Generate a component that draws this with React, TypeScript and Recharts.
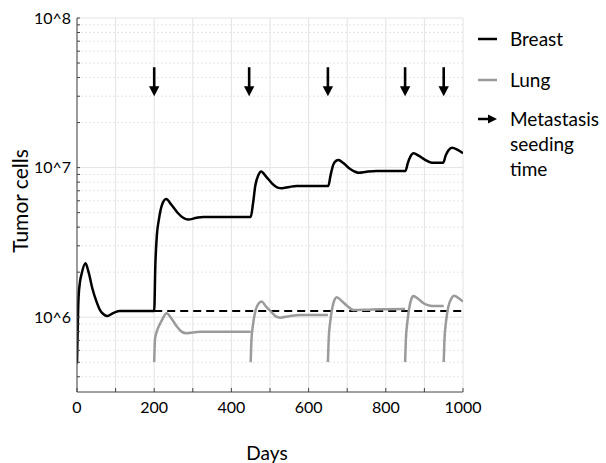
import React from 'react';
import {
  ComposedChart,
  Line,
  XAxis,
  YAxis,
  CartesianGrid,
  ReferenceLine,
  ReferenceDot,
  Label,
} from 'recharts';

// Days vs tumor cells
const breast: [number, number][] = [
  [0, 4.9e5], [2, 8.9e5], [4, 1.35e6], [8, 1.74e6], [12, 1.95e6], [22, 2.29e6],
  [30, 2.0e6], [40, 1.55e6], [51, 1.26e6], [60, 1.11e6], [68, 1.05e6], [78, 1.02e6],
  [95, 1.07e6], [111, 1.1e6], [200, 1.1e6],
  [203, 2.24e6], [207, 3.55e6], [212, 4.47e6], [220, 5.62e6], [231, 6.17e6], [245, 5.62e6],
  [260, 5.01e6], [275, 4.62e6], [288, 4.49e6], [310, 4.62e6], [327, 4.68e6], [450, 4.68e6],
  [456, 5.75e6], [462, 7.59e6], [470, 8.91e6], [477, 9.4e6], [490, 8.71e6], [505, 7.85e6],
  [520, 7.35e6], [530, 7.28e6], [550, 7.43e6], [569, 7.53e6], [651, 7.53e6],
  [657, 8.91e6], [664, 1.047e7], [671, 1.109e7], [677, 1.122e7], [690, 1.072e7], [705, 9.89e6],
  [718, 9.44e6], [729, 9.25e6], [750, 9.38e6], [776, 9.48e6], [851, 9.48e6],
  [857, 1.072e7], [864, 1.189e7], [872, 1.247e7], [885, 1.202e7], [900, 1.135e7], [919, 1.079e7],
  [949, 1.079e7], [955, 1.202e7], [962, 1.303e7], [972, 1.358e7], [985, 1.318e7], [1000, 1.247e7],
];

const lung1: [number, number][] = [
  [200, 5.01e5], [202, 7.08e5], [206, 7.94e5], [212, 8.71e5], [220, 9.55e5], [232, 1.062e6],
  [245, 9.77e5], [258, 8.71e5], [270, 8.04e5], [284, 7.8e5], [300, 7.91e5], [319, 8.0e5], [450, 8.0e5],
];
const lung2: [number, number][] = [
  [450, 5.01e5], [452, 7.08e5], [456, 8.91e5], [462, 1.096e6], [470, 1.23e6], [478, 1.271e6],
  [490, 1.175e6], [505, 1.072e6], [515, 1.012e6], [526, 9.93e5], [550, 1.016e6], [578, 1.035e6], [650, 1.035e6],
];
const lung3: [number, number][] = [
  [650, 5.01e5], [652, 7.08e5], [656, 9.33e5], [662, 1.175e6], [667, 1.303e6], [673, 1.358e6],
  [685, 1.288e6], [700, 1.189e6], [716, 1.117e6], [750, 1.122e6], [785, 1.13e6], [850, 1.135e6],
];
const lung4: [number, number][] = [
  [850, 5.01e5], [852, 7.08e5], [856, 9.33e5], [862, 1.202e6], [866, 1.318e6], [871, 1.387e6],
  [885, 1.318e6], [900, 1.23e6], [915, 1.194e6], [923, 1.189e6], [950, 1.189e6],
];
const lung5: [number, number][] = [
  [950, 5.01e5], [952, 7.08e5], [956, 9.33e5], [962, 1.175e6], [970, 1.334e6], [977, 1.393e6],
  [990, 1.334e6], [1000, 1.271e6],
];
const baselineLevel: [number, number][] = [[200, 1.1e6], [1000, 1.1e6]];

const seedingDays = [200, 446, 650, 850, 950];
const arrowTipLevel = 3e7;

const xTicks = [0, 100, 200, 300, 400, 500, 600, 700, 800, 900, 1000];
const yMajor = [1e6, 1e7, 1e8];
const yMajorLabels = ['10^6', '10^7', '10^8'];
const yMinor = [
  4e5, 5e5, 6e5, 7e5, 8e5, 9e5,
  2e6, 3e6, 4e6, 5e6, 6e6, 7e6, 8e6, 9e6,
  2e7, 3e7, 4e7, 5e7, 6e7, 7e7, 8e7, 9e7,
];
const yDomain = [316228, 1e8];

const toRows = (arr: [number, number][]) => arr.map(([d, v]) => ({ d, v }));

const FONT = 'Lato, "Open Sans", sans-serif';
const GRAY = '#9b9b9b';

const Arrow = (props: any) => {
  const { cx, cy } = props;
  if (cx == null || cy == null) return null;
  return (
    <g>
      <line x1={cx} y1={cy - 29} x2={cx} y2={cy - 9} stroke="#000" strokeWidth={2.6} />
      <polygon points={`${cx - 5.2},${cy - 10} ${cx + 5.2},${cy - 10} ${cx},${cy}`} fill="#000" />
    </g>
  );
};

const legendText: React.CSSProperties = {
  position: 'absolute',
  left: 510,
  fontFamily: FONT,
  fontSize: 19,
  color: '#000',
  lineHeight: '25px',
  whiteSpace: 'nowrap',
};

export default function App() {
  const yTicks = [...yMinor, ...yMajor].sort((a, b) => a - b);
  return (
    <div style={{ position: 'absolute', left: 0, top: 0, width: 606, height: 463, fontFamily: FONT, background: '#fff', overflow: 'hidden' }}>
      <ComposedChart
        width={606}
        height={463}
        margin={{ top: 18, right: 143, bottom: 41, left: 17 }}
      >
        <CartesianGrid horizontal={false} vertical stroke="#e3e3e3" strokeWidth={1} />
        {yMinor.map((v) => (
          <ReferenceLine key={'mi' + v} y={v} stroke="#e6e6e6" strokeDasharray="2 2" strokeWidth={1} />
        ))}
        {yMajor.map((v) => (
          <ReferenceLine key={'ma' + v} y={v} stroke="#e3e3e3" strokeWidth={1} />
        ))}
        <XAxis
          dataKey="d"
          type="number"
          domain={[0, 1000]}
          ticks={xTicks}
          interval={0}
          tickFormatter={(d: number) => (d % 200 === 0 ? String(d) : '')}
          tickSize={-4}
          tickMargin={14}
          height={30}
          stroke="#444"
          tick={{ fontSize: 16, fill: '#000', fontFamily: FONT }}
          allowDataOverflow
        >
          <Label
            content={(p: any) => {
              const vb = p.viewBox || { x: 77, y: 392, width: 386, height: 30 };
              return (
                <text x={vb.x + vb.width / 2 - 3} y={vb.y + 68} textAnchor="middle" fontSize={19} fontFamily={FONT} fill="#000" style={{ fill: '#000' }}>
                  Days
                </text>
              );
            }}
          />
        </XAxis>
        <YAxis
          type="number"
          scale="log"
          domain={yDomain}
          ticks={yTicks}
          interval={0}
          tickFormatter={(v: number) => {
            const i = yMajor.indexOf(v);
            return i >= 0 ? yMajorLabels[i] : '';
          }}
          tickSize={-3}
          tickMargin={9}
          width={60}
          stroke="#444"
          tick={{ fontSize: 16, fill: '#000', fontFamily: FONT }}
          allowDataOverflow
        >
          <Label
            content={(p: any) => {
              const vb = p.viewBox || { x: 17, y: 18, width: 60, height: 374 };
              const cx = vb.x + 11;
              const cy = vb.y + vb.height / 2 - 4;
              return (
                <text x={cx} y={cy} transform={`rotate(-90, ${cx}, ${cy})`} textAnchor="middle" fontSize={21} fontFamily={FONT} fill="#000" style={{ fill: '#000' }}>
                  Tumor cells
                </text>
              );
            }}
          />
        </YAxis>
        <Line data={toRows(baselineLevel)} dataKey="v" name="Breast level" type="linear" stroke="#000" strokeWidth={2} strokeDasharray="8 5" dot={false} activeDot={false} isAnimationActive={false} />
        <Line data={toRows(lung1)} dataKey="v" name="Lung 1" type="monotone" stroke={GRAY} strokeWidth={2.5} dot={false} activeDot={false} isAnimationActive={false} />
        <Line data={toRows(lung2)} dataKey="v" name="Lung 2" type="monotone" stroke={GRAY} strokeWidth={2.5} dot={false} activeDot={false} isAnimationActive={false} />
        <Line data={toRows(lung3)} dataKey="v" name="Lung 3" type="monotone" stroke={GRAY} strokeWidth={2.5} dot={false} activeDot={false} isAnimationActive={false} />
        <Line data={toRows(lung4)} dataKey="v" name="Lung 4" type="monotone" stroke={GRAY} strokeWidth={2.5} dot={false} activeDot={false} isAnimationActive={false} />
        <Line data={toRows(lung5)} dataKey="v" name="Lung 5" type="monotone" stroke={GRAY} strokeWidth={2.5} dot={false} activeDot={false} isAnimationActive={false} />
        <Line data={toRows(breast)} dataKey="v" name="Breast" type="monotone" stroke="#000" strokeWidth={2.5} dot={false} activeDot={false} isAnimationActive={false} />
        {seedingDays.map((d) => (
          <ReferenceDot key={'a' + d} x={d} y={arrowTipLevel} r={0} shape={(p: any) => <Arrow {...p} />} />
        ))}
      </ComposedChart>

      {/* Legend */}
      <svg style={{ position: 'absolute', left: 0, top: 0 }} width={606} height={463} pointerEvents="none">
        <line x1={478} y1={39} x2={497} y2={39} stroke="#000" strokeWidth={2.5} />
        <line x1={478} y1={80} x2={497} y2={80} stroke={GRAY} strokeWidth={2.5} />
        <line x1={478} y1={119} x2={490} y2={119} stroke="#000" strokeWidth={2.5} />
        <polygon points="488,114.5 488,123.5 497,119" fill="#000" />
      </svg>
      <div style={{ ...legendText, top: 26 }}>Breast</div>
      <div style={{ ...legendText, top: 67 }}>Lung</div>
      <div style={{ ...legendText, top: 106 }}>
        Metastasis
        <br />
        seeding
        <br />
        time
      </div>
    </div>
  );
}
